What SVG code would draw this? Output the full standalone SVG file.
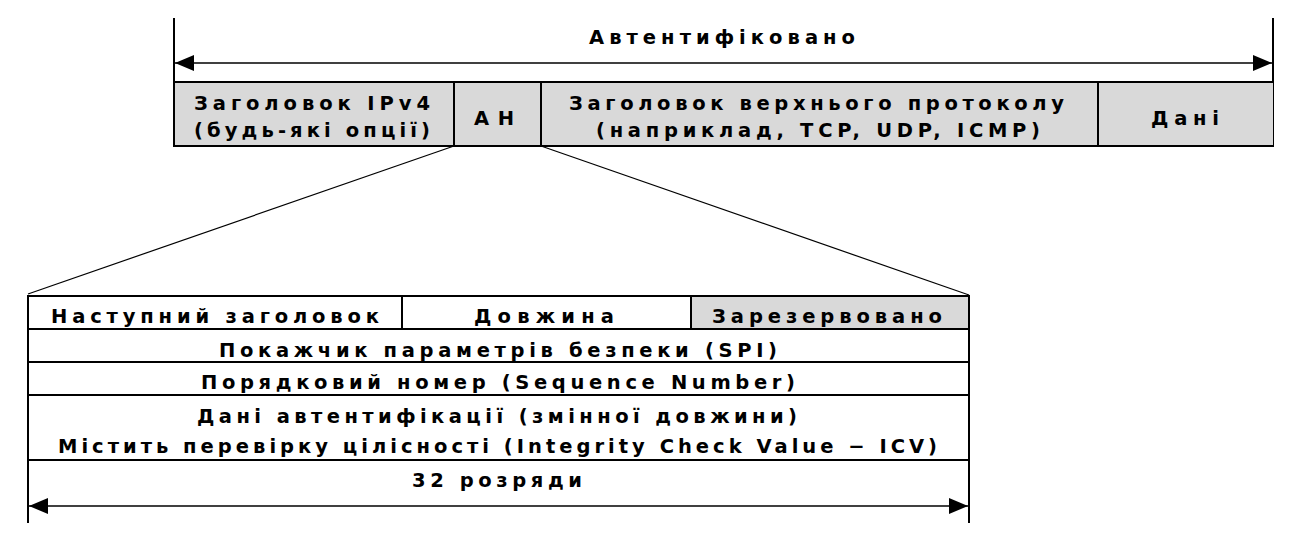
<svg xmlns="http://www.w3.org/2000/svg" width="1295" height="551" viewBox="0 0 1295 551">
<style>
text{font-family:"DejaVu Sans","Liberation Sans",sans-serif;font-weight:bold;font-size:19.5px;fill:#000}
.b{stroke:#000;stroke-width:2;fill:none}
.g{fill:#d9d9d9;stroke:none}
.a{stroke:#000;stroke-width:1.5;fill:none}
.c{stroke:#000;stroke-width:1.2;fill:none}
</style>
<defs>
<marker id="ah" viewBox="0 0 19 16" refX="19" refY="8" markerWidth="19" markerHeight="16" markerUnits="userSpaceOnUse" orient="auto-start-reverse">
<path d="M0,0 L19,8 L0,16 Z" fill="#000"/>
</marker>
</defs>
<rect width="1295" height="551" fill="#fff"/>
<g id="authenticated">
<line class="b" x1="174" y1="18" x2="174" y2="147"/>
<line class="b" x1="1273" y1="18" x2="1273" y2="147"/>
<text x="589" y="44" textLength="266" lengthAdjust="spacing">Автентифіковано</text>
</g>
<g id="packet">
<rect class="g" x="175" y="82" width="1098" height="64"/>
<line class="b" x1="174" y1="82" x2="1274" y2="82"/>
<line class="b" x1="174" y1="146" x2="1274" y2="146"/>
<line class="b" x1="454" y1="82" x2="454" y2="146"/>
<line class="b" x1="541" y1="82" x2="541" y2="146"/>
<line class="b" x1="1098" y1="82" x2="1098" y2="146"/>
</g>
<g id="ipv4">
<text x="194" y="110" textLength="236" lengthAdjust="spacing">Заголовок IPv4</text>
<text x="194" y="137" textLength="236" lengthAdjust="spacing">(будь-які опції)</text>
</g>
<g id="ah-cell">
<text x="474" y="125" textLength="40" lengthAdjust="spacing">AH</text>
</g>
<g id="upper">
<text x="569" y="110" textLength="495" lengthAdjust="spacing">Заголовок верхнього протоколу</text>
<text x="596" y="137" textLength="444" lengthAdjust="spacing">(наприклад, TCP, UDP, ICMP)</text>
</g>
<g id="data">
<text x="1151" y="125" textLength="68" lengthAdjust="spacing">Дані</text>
</g>
<g id="ah-header">
<rect class="g" x="691" y="296" width="278" height="33"/>
<rect class="b" x="28" y="296" width="941" height="164"/>
<line class="b" x1="28" y1="329" x2="969" y2="329"/>
<line class="b" x1="28" y1="362" x2="969" y2="362"/>
<line class="b" x1="28" y1="395" x2="969" y2="395"/>
<line class="b" x1="402" y1="296" x2="402" y2="329"/>
<line class="b" x1="691" y1="296" x2="691" y2="329"/>
<line class="b" x1="28" y1="460" x2="28" y2="523"/>
<line class="b" x1="969" y1="460" x2="969" y2="523"/>
<text x="51" y="323" textLength="328" lengthAdjust="spacing">Наступний заголовок</text>
<text x="474" y="323" textLength="140" lengthAdjust="spacing">Довжина</text>
<text x="712" y="323" textLength="230" lengthAdjust="spacing">Зарезервовано</text>
<text x="219" y="357" textLength="558" lengthAdjust="spacing">Покажчик параметрів безпеки (SPI)</text>
<text x="201" y="389" textLength="594" lengthAdjust="spacing">Порядковий номер (Sequence Number)</text>
<text x="197" y="423" textLength="600" lengthAdjust="spacing">Дані автентифікації (змінної довжини)</text>
<text x="58" y="453" textLength="879" lengthAdjust="spacing">Містить перевірку цілісності (Integrity Check Value − ICV)</text>
<text x="412" y="487" textLength="170" lengthAdjust="spacing">32 розряди</text>
</g>
<g id="connectors">
<line class="a" x1="175" y1="63" x2="1272" y2="63" marker-start="url(#ah)" marker-end="url(#ah)"/>
<line class="c" x1="454" y1="146" x2="28" y2="294"/>
<line class="c" x1="541" y1="146" x2="969" y2="295"/>
<line class="a" x1="29" y1="506" x2="968" y2="506" marker-start="url(#ah)" marker-end="url(#ah)"/>
</g>
</svg>
